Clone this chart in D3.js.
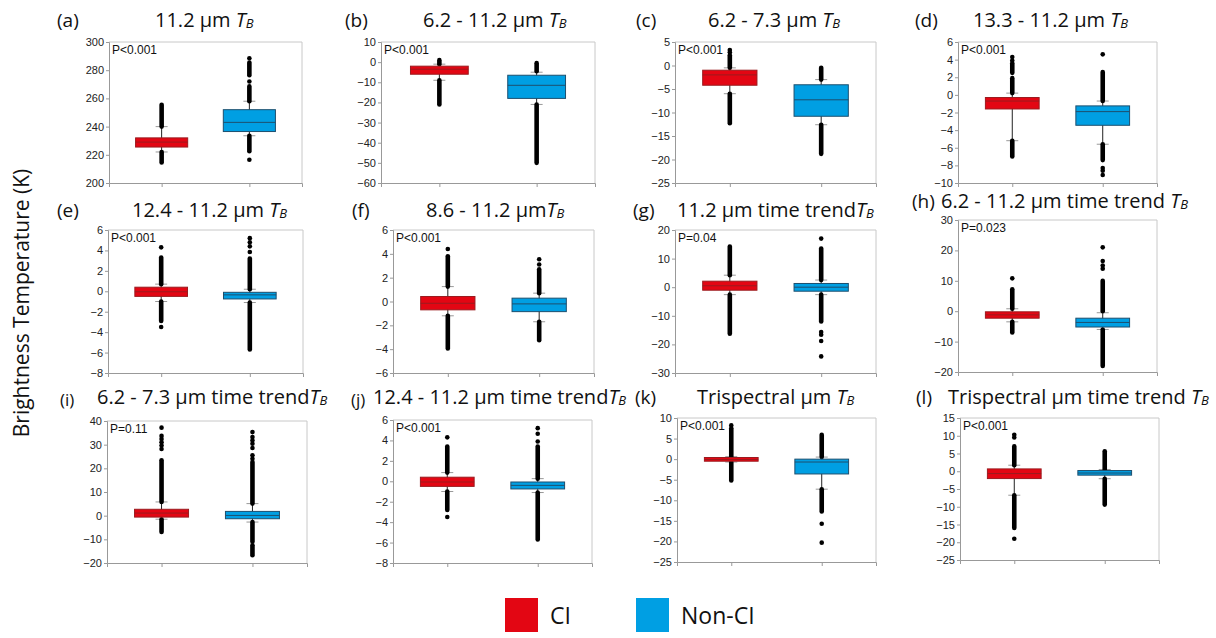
<!DOCTYPE html>
<html>
<head>
<meta charset="utf-8">
<script src="https://cdn.jsdelivr.net/npm/d3@7"></script>
<style>
  body { margin: 0; background: #fff; }
  svg { display: block; }
  .tick text { font-family: "Liberation Sans", Arial, sans-serif; font-size: 11px; fill: #222; }
</style>
</head>
<body>
<svg id="chart" width="1216" height="638"></svg>
<script>
// ---- data ----
const groups = ["CI", "Non-CI"];
const panelLetters = ["(a)", "(b)", "(c)", "(d)", "(e)", "(f)", "(g)", "(h)", "(i)", "(j)", "(k)", "(l)"];
const panelTitles = ["11.2 µm ", "6.2 - 11.2 µm ", "6.2 - 7.3 µm ", "13.3 - 11.2 µm ",
  "12.4 - 11.2 µm ", "8.6 - 11.2 µm", "11.2  µm time trend", "6.2 - 11.2 µm time trend ",
  "6.2 - 7.3 µm time trend", "12.4 - 11.2 µm time trend", "Trispectral µm  ", "Trispectral µm time trend  "];
const pLabels = ["P<0.001", "P<0.001", "P<0.001", "P<0.001", "P<0.001", "P<0.001",
  "P=0.04", "P=0.023", "P=0.11", "P<0.001", "P<0.001", "P<0.001"];
const yTicks = [
  [200, 220, 240, 260, 280, 300],
  [-60, -50, -40, -30, -20, -10, 0, 10],
  [-25, -20, -15, -10, -5, 0, 5],
  [-10, -8, -6, -4, -2, 0, 2, 4, 6],
  [-8, -6, -4, -2, 0, 2, 4, 6],
  [-6, -4, -2, 0, 2, 4, 6],
  [-30, -20, -10, 0, 10, 20],
  [-20, -10, 0, 10, 20, 30],
  [-20, -10, 0, 10, 20, 30, 40],
  [-8, -6, -4, -2, 0, 2, 4, 6],
  [-25, -20, -15, -10, -5, 0, 5, 10],
  [-25, -20, -15, -10, -5, 0, 5, 10, 15]
];
// [lower whisker, q1, median, q3, upper whisker]
const ciBoxes = [
  [222, 225.5, 229, 232, 240], [-9, -6, -3.5, -2, -1], [-6, -4.2, -2, -1, -0.5],
  [-5.2, -1.6, -0.7, -0.3, 0.2], [-1, -0.5, -0.05, 0.4, 0.7], [-1.2, -0.7, -0.15, 0.42, 1.25],
  [-2.6, -1.05, 0.5, 2.1, 4.2], [-3.5, -2.3, -1.2, -0.2, 0.8], [-1.5, -0.6, 1.1, 2.7, 5.8],
  [-1, -0.5, -0.07, 0.4, 0.85], [-0.7, -0.5, -0.1, 0.4, 0.6], [-6.75, -2.06, -0.65, 0.66, 1.7]
];
const nonCiBoxes = [
  [233.5, 236.5, 243, 252, 258], [-21, -18, -11.5, -6.5, -5], [-12.6, -10.8, -7.3, -4.1, -3],
  [-5.6, -3.45, -1.9, -1.25, -0.7], [-1.1, -0.75, -0.35, -0.1, 0.2], [-1.7, -0.85, -0.2, 0.28, 0.7],
  [-2.6, -1.4, 0, 1.3, 2.5], [-6, -5.2, -3.7, -2.3, -0.5], [-2.7, -1.3, 0.1, 1.8, 5.1],
  [-1.1, -0.75, -0.4, -0.07, 0.26], [-7.3, -3.6, -0.7, 0, 0.5], [-2.1, -1.1, -0.5, 0.2, 0.5]
];
// dense outlier columns (overlapping dots) as [from, to]
const ciOutlierRuns = [
  [[240, 255.5], [214.5, 222]], [[-1, 1], [-21, -9]], [[-0.5, 2.2], [-12.3, -6]],
  [[0.2, 1.9], [2.5, 3.6], [-7, -5.2]], [[0.7, 3.3], [-2.9, -1]], [[1.25, 3.8], [-3.95, -1.2]],
  [[4.2, 14.2], [-16.3, -2.6]], [[0.8, 7.2], [-7, -3.5]], [[5.8, 23.4], [-6.9, -1.5]],
  [[0.85, 3.4], [-2.8, -1]], [[0.6, 7.5], [-5.2, -0.7]], [[1.7, 7], [-16, -6.75]]
];
const nonCiOutlierRuns = [
  [[258, 268.5], [276.5, 285.5], [222.5, 233.5]], [[-4.5, -0.5], [-50, -21]], [[-3, -0.5], [-18.8, -12.6]],
  [[-0.7, 2.6], [-7.4, -5.6]], [[0.2, 3.2], [-5.7, -1.1]], [[0.7, 2.7], [-3.25, -1.7]],
  [[2.5, 13.5], [-12, -2.6]], [[0, 10], [-18, -6]], [[5.1, 22.7], [-11, -2.7], [-16.7, -12.5]],
  [[0.26, 3.4], [-5.7, -1.1]], [[0.5, 5.9], [-12.7, -7.3]], [[0.5, 5.6], [-9.4, -2.1]]
];
// isolated outliers
const ciOutlierDots = [
  [], [], [3.3, 2.8], [4.3, 3.9], [4.3, -3.5], [4.4], [], [10.8],
  [37.2, 33.7, 32.4, 31, 29.6, 28.2], [4.3, -3.5], [8.2], [10.3, 9.5, -19]
];
const nonCiOutlierDots = [
  [272, 288.5, 216.5], [], [], [4.6, -8.3, -8.6, -9.1], [5.2, 4.8, 4.4, 3.85], [3.55, 3.1],
  [17, -15.7, -16.6, -18.8, -24.2], [14, 15, 16.5, 21], [35.3, 33.2, 31.8, 30.4, 28.6, 25.5, 24],
  [5.2, 4.65, 3.9], [-15.7, -20.3], []
];

// ---- layout ----
// plot frames [left, top, right, bottom]
const frames = [
  [109, 42, 302, 183], [381, 42, 595, 183], [675, 42, 876, 183], [958, 42, 1157, 183],
  [108, 230, 303, 373], [393, 230, 594, 373], [675, 230, 876, 373], [958, 220, 1157, 372],
  [107, 421, 307, 563], [393, 420, 592, 563], [677, 418, 876, 562], [960, 418, 1159, 560]
];
// [letter x, title x, baseline y]
const titlePos = [
  [57, 155, 27], [345, 423, 27], [636, 708, 27], [915, 973, 27],
  [57, 132, 217], [352, 426, 217], [633, 677, 217], [912, 941, 208],
  [60, 97, 404], [351, 373, 404], [635, 697, 404], [916, 948, 404]
];

const colors = {CI: "#e30613", "Non-CI": "#009fe3"};
const strokes = {CI: "#9b1b1f", "Non-CI": "#1d4f6e"};

const svg = d3.select("#chart");
const titleFont = "'Open Sans', 'Noto Sans', sans-serif";

panelLetters.forEach((letter, i) => {
  const [L, T, R, B] = frames[i];
  const w = R - L, h = B - T;
  const g = svg.append("g").attr("transform", `translate(${L},${T})`);

  const ticks = yTicks[i];
  const y = d3.scaleLinear().domain([ticks[0], ticks[ticks.length - 1]]).range([h, 0]);
  const x = d3.scalePoint().domain(groups).range([0, w]).padding(0.6);
  const boxW = w * 0.27;

  // frame top/right
  g.append("path").attr("d", `M0,0H${w}V${h}`).attr("fill", "none").attr("stroke", "#c8c8c8");

  const yAxis = g.append("g").call(d3.axisLeft(y).tickValues(ticks).tickSize(3).tickPadding(2));
  yAxis.selectAll("path, line").attr("stroke", "#999");
  const xAxis = g.append("g").attr("transform", `translate(0,${h})`)
    .call(d3.axisBottom(x).tickSize(4).tickFormat(""));
  xAxis.selectAll("path, line").attr("stroke", "#999");

  const series = [
    {key: "CI", box: ciBoxes[i], runs: ciOutlierRuns[i], dots: ciOutlierDots[i]},
    {key: "Non-CI", box: nonCiBoxes[i], runs: nonCiOutlierRuns[i], dots: nonCiOutlierDots[i]}
  ];

  series.forEach(s => {
    const cx = x(s.key);
    const [lo, q1, med, q3, hi] = s.box;
    // whisker
    g.append("line").attr("x1", cx).attr("x2", cx).attr("y1", y(lo)).attr("y2", y(hi))
      .attr("stroke", "#222").attr("stroke-width", 1);
    [lo, hi].forEach(v => {
      g.append("line").attr("x1", cx - 6).attr("x2", cx + 6).attr("y1", y(v)).attr("y2", y(v))
        .attr("stroke", "#999").attr("stroke-width", 1);
    });
    // outliers
    g.selectAll(null).data(s.runs).enter().append("line")
      .attr("x1", cx).attr("x2", cx)
      .attr("y1", d => y(d[0])).attr("y2", d => y(d[1]))
      .attr("stroke", "#000").attr("stroke-width", 4.6).attr("stroke-linecap", "round");
    g.selectAll(null).data(s.dots).enter().append("circle")
      .attr("cx", cx).attr("cy", d => y(d)).attr("r", 2.3).attr("fill", "#000");
    // box
    g.append("rect").attr("x", cx - boxW / 2).attr("width", boxW)
      .attr("y", y(q3)).attr("height", Math.max(1, y(q1) - y(q3)))
      .attr("fill", colors[s.key]).attr("stroke", strokes[s.key]).attr("stroke-width", 1);
    g.append("line").attr("x1", cx - boxW / 2).attr("x2", cx + boxW / 2)
      .attr("y1", y(med)).attr("y2", y(med))
      .attr("stroke", strokes[s.key]).attr("stroke-width", 1);
  });

  g.append("text").attr("x", 3).attr("y", 12)
    .style("font-family", "'Liberation Sans', Arial, sans-serif").style("font-size", "12px")
    .attr("fill", "#111").text(pLabels[i]);

  // titles
  const [lx, tx, ty] = titlePos[i];
  const small = i >= 8 && i <= 9;
  svg.append("text").attr("x", lx).attr("y", ty + (small ? 2 : 0))
    .style("font-family", titleFont).style("font-size", small ? "17px" : "19px")
    .attr("fill", "#111").text(letter);
  const t = svg.append("text").attr("x", tx).attr("y", ty)
    .style("font-family", titleFont).style("font-size", "20px").attr("fill", "#111");
  t.append("tspan").text(panelTitles[i]);
  t.append("tspan").style("font-style", "italic").text("T");
  t.append("tspan").style("font-style", "italic").style("font-size", "13px").attr("dy", 1).text("B");
});

// y axis title
svg.append("text")
  .attr("transform", "translate(29,303) rotate(-90)")
  .attr("text-anchor", "middle")
  .style("font-family", titleFont).style("font-size", "21px").attr("fill", "#111")
  .text("Brightness Temperature (K)");

// legend
const legend = svg.append("g");
const legendX = {CI: 505, "Non-CI": 636};
groups.forEach(k => {
  legend.append("rect").attr("x", legendX[k]).attr("y", 598).attr("width", 33).attr("height", 34)
    .attr("fill", colors[k]);
  legend.append("text").attr("x", legendX[k] + 45).attr("y", 624)
    .style("font-family", titleFont).style("font-size", "23px").attr("fill", "#111").text(k);
});
</script>
</body>
</html>
